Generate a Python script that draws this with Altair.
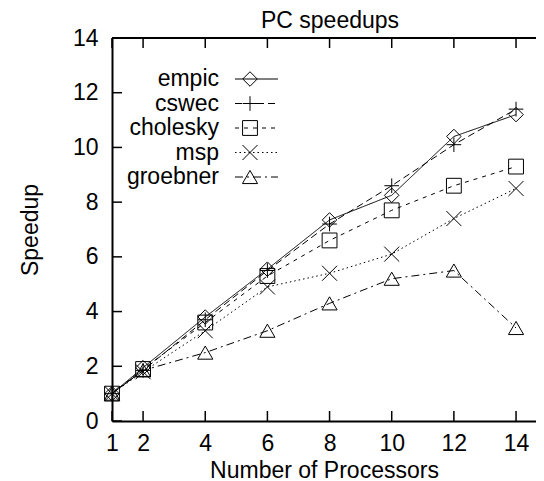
import altair as alt
import pandas as pd

# ---- data ----
processors = [1, 2, 4, 6, 8, 10, 12, 14]
series_names = ["empic", "cswec", "cholesky", "msp", "groebner"]
empic = [1.0, 1.95, 3.8, 5.55, 7.35, 8.25, 10.4, 11.2]
cswec = [1.0, 1.85, 3.7, 5.5, 7.2, 8.6, 10.1, 11.4]
cholesky = [1.0, 1.9, 3.6, 5.3, 6.6, 7.7, 8.6, 9.3]
msp = [1.0, 1.8, 3.3, 4.9, 5.4, 6.1, 7.4, 8.5]
groebner = [1.0, 1.85, 2.5, 3.3, 4.3, 5.2, 5.5, 3.4]
x_ticks = [1, 2, 4, 6, 8, 10, 12, 14]
y_ticks = [0, 2, 4, 6, 8, 10, 12, 14]
chart_title = ["PC speedups"]

values = {"empic": empic, "cswec": cswec, "cholesky": cholesky, "msp": msp, "groebner": groebner}
rows = []
for name in series_names:
    for p, v in zip(processors, values[name]):
        rows.append({"series": name, "procs": p, "speedup": v})
df = pd.DataFrame(rows)

legend_df = pd.DataFrame({"series": series_names, "idx": list(range(len(series_names)))})
xt_df = pd.DataFrame({"t": x_ticks})
yt_df = pd.DataFrame({"t": y_ticks})
title_df = pd.DataFrame({"title": chart_title})

W, H = 424, 383
FONT = "Liberation Sans"
FS = 23
TICK = 10

xs = alt.Scale(domain=[1, 1 + W / 31.08], nice=False, zero=False)
ys = alt.Scale(domain=[0, 14], nice=False, zero=False)

dash_scale = alt.Scale(domain=series_names,
                       range=[[1, 0], [7, 4], [4, 5], [1.5, 3], [8, 4, 2, 4]])
shape_scale = alt.Scale(domain=series_names,
                        range=["diamond", "M-1,0H1M0,-1V1", "square",
                               "M-1,-1L1,1M-1,1L1,-1", "triangle-up"])
size_scale = alt.Scale(domain=series_names, range=[210, 230, 160, 170, 230])

xaxis = alt.Axis(values=x_ticks, ticks=False, grid=False, domain=True, domainColor="black",
                 domainWidth=2, labelFont=FONT, labelFontSize=FS, labelColor="black",
                 labelPadding=11, title="Number of Processors", titleFont=FONT,
                 titleFontSize=FS, titleFontWeight="normal", titleColor="black",
                 titleY=56, titleBaseline="alphabetic", labelFlush=False)
yaxis = alt.Axis(values=y_ticks, ticks=False, grid=False, domain=True, domainColor="black",
                 domainWidth=2, labelFont=FONT, labelFontSize=FS, labelColor="black",
                 labelPadding=14, title="Speedup", titleFont=FONT, titleFontSize=FS,
                 titleFontWeight="normal", titleColor="black", titleX=-75,
                 titleBaseline="alphabetic", labelFlush=False)

lines = alt.Chart(df).mark_line(color="black", strokeWidth=1).encode(
    x=alt.X("procs:Q", scale=xs, axis=xaxis),
    y=alt.Y("speedup:Q", scale=ys, axis=yaxis),
    strokeDash=alt.StrokeDash("series:N", scale=dash_scale, legend=None),
    detail="series:N",
)
points = alt.Chart(df).mark_point(color="black", filled=False, strokeWidth=1, opacity=1).encode(
    x=alt.X("procs:Q", scale=xs),
    y=alt.Y("speedup:Q", scale=ys),
    shape=alt.Shape("series:N", scale=shape_scale, legend=None),
    size=alt.Size("series:N", scale=size_scale, legend=None),
)

# top border line
top_line = alt.Chart(xt_df).mark_rule(color="black", strokeWidth=2).encode(
    x=alt.value(0), x2=alt.value(W), y=alt.value(0))

bottom_ticks = alt.Chart(xt_df).mark_rule(color="black", strokeWidth=1.5).encode(
    x=alt.X("t:Q", scale=xs), y=alt.value(H), y2=alt.value(H - TICK))
top_ticks = alt.Chart(xt_df).mark_rule(color="black", strokeWidth=1.5).encode(
    x=alt.X("t:Q", scale=xs), y=alt.value(0), y2=alt.value(TICK))
left_ticks = alt.Chart(yt_df).mark_rule(color="black", strokeWidth=1.5).encode(
    y=alt.Y("t:Q", scale=ys), x=alt.value(0), x2=alt.value(TICK))

title_text = alt.Chart(title_df).mark_text(align="center", baseline="alphabetic", font=FONT,
                                           fontSize=FS, color="black").encode(
    x=alt.value(218), y=alt.value(-10), text="title:N")

ly = alt.Scale(domain=[0, 4], range=[41, 139])
leg_text = alt.Chart(legend_df).mark_text(align="right", baseline="middle", font=FONT,
                                          fontSize=FS, color="black").encode(
    x=alt.value(107), y=alt.Y("idx:Q", scale=ly, axis=None), text="series:N")
leg_line = alt.Chart(legend_df).mark_rule(color="black", strokeWidth=1).encode(
    x=alt.value(123), x2=alt.value(166), y=alt.Y("idx:Q", scale=ly, axis=None),
    strokeDash=alt.StrokeDash("series:N", scale=dash_scale, legend=None))
leg_pts = alt.Chart(legend_df).mark_point(color="black", filled=False, strokeWidth=1,
                                          opacity=1).encode(
    x=alt.value(138), y=alt.Y("idx:Q", scale=ly, axis=None),
    shape=alt.Shape("series:N", scale=shape_scale, legend=None),
    size=alt.Size("series:N", scale=size_scale, legend=None))

legend = alt.layer(leg_line, leg_pts, leg_text)

main = alt.layer(lines, points, top_line, bottom_ticks, top_ticks, left_ticks, title_text)

chart = alt.layer(main, legend).resolve_scale(y="independent").properties(
    width=W, height=H,
    autosize=alt.AutoSizeParams(type="none"),
    padding={"left": 104, "top": 30, "right": 0, "bottom": 60},
).configure_view(stroke=None)

chart.save("out.html", embed_options={"renderer": "svg", "actions": False})
